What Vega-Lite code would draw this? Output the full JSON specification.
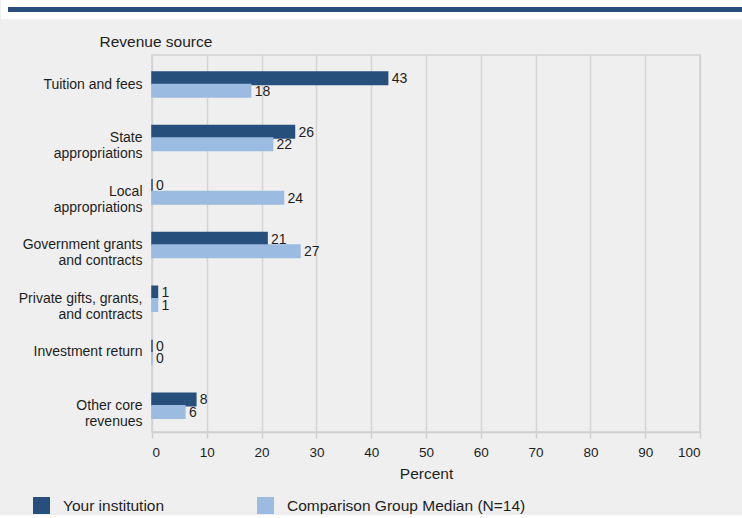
{
  "$schema": "https://vega.github.io/schema/vega-lite/v6.json",
  "background": "#efefef",
  "padding": {"top": 0, "left": 1, "right": 0, "bottom": 0},
  "config": {
    "font": "Liberation Sans",
    "text": {"font": "Liberation Sans"}
  },
  "spacing": 43,
  "center": true,
  "bounds": "flush",
  "resolve": {"scale": {"color": "independent", "stroke": "independent"}},
  "vconcat": [
    {
      "width": 836,
      "height": 5,
      "view": {"stroke": "#ffffff", "strokeWidth": 14, "fill": null},
      "data": {"values": [{}]},
      "mark": {"type": "rect", "color": "#264f7c"},
      "encoding": {}
    },
    {
      "width": 548,
      "height": 377,
      "view": {"stroke": "#d2d2d2", "strokeWidth": 1.5},
      "data": {
        "values": [
          {"category": "Tuition and fees", "series": "Your institution", "value": 43},
          {"category": "Tuition and fees", "series": "Comparison Group Median (N=14)", "value": 18},
          {"category": "State appropriations", "series": "Your institution", "value": 26},
          {"category": "State appropriations", "series": "Comparison Group Median (N=14)", "value": 22},
          {"category": "Local appropriations", "series": "Your institution", "value": 0},
          {"category": "Local appropriations", "series": "Comparison Group Median (N=14)", "value": 24},
          {"category": "Government grants and contracts", "series": "Your institution", "value": 21},
          {"category": "Government grants and contracts", "series": "Comparison Group Median (N=14)", "value": 27},
          {"category": "Private gifts, grants, and contracts", "series": "Your institution", "value": 1},
          {"category": "Private gifts, grants, and contracts", "series": "Comparison Group Median (N=14)", "value": 1},
          {"category": "Investment return", "series": "Your institution", "value": 0},
          {"category": "Investment return", "series": "Comparison Group Median (N=14)", "value": 0},
          {"category": "Other core revenues", "series": "Your institution", "value": 8},
          {"category": "Other core revenues", "series": "Comparison Group Median (N=14)", "value": 6}
        ]
      },
      "encoding": {
        "y": {
          "field": "category",
          "type": "nominal",
          "sort": ["Tuition and fees", "State appropriations", "Local appropriations", "Government grants and contracts", "Private gifts, grants, and contracts", "Investment return", "Other core revenues"],
          "scale": {"paddingInner": 0.533, "paddingOuter": 0.2877, "align": 0.552},
          "axis": {
            "title": "Revenue source",
            "titleAngle": 0,
            "titleAlign": "left",
            "titleBaseline": "alphabetic",
            "titleX": -53,
            "titleY": -9,
            "titleFontSize": 15.5,
            "titleFontWeight": "normal",
            "titleColor": "#1e1e1e",
            "labelFontSize": 14,
            "labelColor": "#1e1e1e",
            "labelLineHeight": 16,
            "labelPadding": 10,
            "labelLimit": 300,
            "ticks": false,
            "domain": false,
            "labelExpr": "datum.value == 'State appropriations' ? ['State', 'appropriations'] : datum.value == 'Local appropriations' ? ['Local', 'appropriations'] : datum.value == 'Government grants and contracts' ? ['Government grants', 'and contracts'] : datum.value == 'Private gifts, grants, and contracts' ? ['Private gifts, grants,', 'and contracts'] : datum.value == 'Other core revenues' ? ['Other core', 'revenues'] : datum.value"
          }
        },
        "yOffset": {
          "field": "series",
          "type": "nominal",
          "sort": ["Your institution", "Comparison Group Median (N=14)"],
          "scale": {"paddingInner": 0, "paddingOuter": 0}
        },
        "x": {
          "field": "value",
          "type": "quantitative",
          "scale": {"domain": [0, 100], "nice": false},
          "axis": {
            "title": "Percent",
            "values": [0, 10, 20, 30, 40, 50, 60, 70, 80, 90, 100],
            "grid": true,
            "gridColor": "#d4d4d4",
            "gridWidth": 1.5,
            "domainColor": "#cfcfcf",
            "domainWidth": 1.5,
            "tickColor": "#cfcfcf",
            "tickWidth": 1.5,
            "tickSize": 6,
            "labelFontSize": 13.5,
            "labelColor": "#1e1e1e",
            "labelPadding": 7,
            "titleFontSize": 15.5,
            "titleFontWeight": "normal",
            "titleColor": "#1e1e1e",
            "titlePadding": 8
          }
        }
      },
      "layer": [
        {
          "mark": {"type": "bar", "strokeWidth": 1.5},
          "encoding": {
            "color": {
              "field": "series",
              "type": "nominal",
              "scale": {"domain": ["Your institution", "Comparison Group Median (N=14)"], "range": ["#264f7c", "#9bbbe0"]},
              "legend": {
                "title": null,
                "orient": "none",
                "legendX": -119,
                "legendY": 442,
                "direction": "horizontal",
                "symbolType": "square",
                "symbolSize": 289,
                "symbolStrokeWidth": 0,
                "symbolOpacity": 1,
                "labelFontSize": 15.5,
                "labelColor": "#1e1e1e",
                "labelOffset": 13,
                "labelLimit": 400,
                "columnPadding": 92
              }
            },
            "stroke": {
              "field": "series",
              "type": "nominal",
              "scale": {"domain": ["Your institution", "Comparison Group Median (N=14)"], "range": ["#264f7c", "#9bbbe0"]},
              "legend": null
            }
          }
        },
        {
          "mark": {"type": "text", "align": "left", "baseline": "middle", "dx": 4, "dy": 1, "fontSize": 14, "color": "#1e1e1e"},
          "encoding": {
            "text": {"field": "value", "type": "quantitative"}
          }
        }
      ]
    }
  ]
}
